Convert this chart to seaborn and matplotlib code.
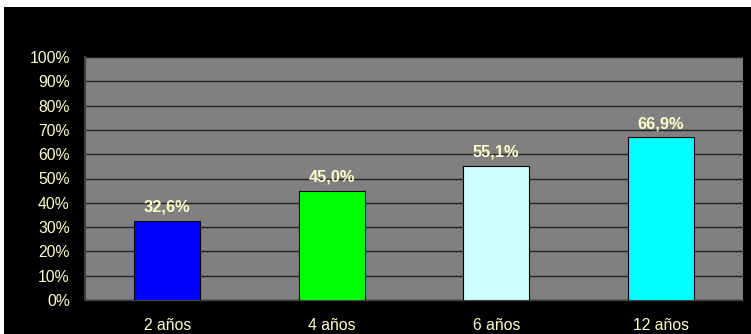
import matplotlib
matplotlib.use("Agg")
import matplotlib.pyplot as plt
import matplotlib.patches as mpatches
import seaborn as sns
import pandas as pd
from matplotlib.ticker import FuncFormatter, MultipleLocator

categories = ["2 años", "4 años", "6 años", "12 años"]
values = [32.6, 45.0, 55.1, 66.9]
labels = ["32,6%", "45,0%", "55,1%", "66,9%"]
colors = ["#0000FF", "#00FF00", "#CCFFFF", "#00FFFF"]

sns.set_style("white")
plt.rcParams["font.family"] = ["Liberation Sans", "DejaVu Sans"]

W, H = 751, 334
fig = plt.figure(figsize=(W / 100, H / 100), dpi=100, facecolor="white")
# black chart area with thin white margin at top/left
fig.patches.append(mpatches.Rectangle((4 / W, 0), 1 - 4 / W, 1 - 7 / H,
                                      transform=fig.transFigure, facecolor="black",
                                      edgecolor="none", zorder=-10))

ax = fig.add_axes([85 / W, 1 - 300 / H, (743 - 85) / W, (300 - 57) / H])
df = pd.DataFrame({"cat": categories, "val": values})
sns.barplot(data=df, x="cat", y="val", hue="cat", palette=colors, legend=False,
            saturation=1, width=0.4, edgecolor="black", linewidth=0.8, ax=ax, zorder=3)

ax.set_facecolor("#808080")
ax.set_ylim(0, 100)
ax.set_xlim(-0.5, len(categories) - 0.5)
ax.yaxis.set_major_locator(MultipleLocator(10))
ax.yaxis.set_major_formatter(FuncFormatter(lambda v, p: f"{int(round(v))}%"))
ax.grid(axis="y", color="#222222", linewidth=1.0, zorder=1)
ax.set_axisbelow(True)
ax.set_xlabel("")
ax.set_ylabel("")

txtc = "#FFFFCC"
ax.tick_params(axis="both", length=0, colors=txtc, labelsize=11.3)
ax.tick_params(axis="x", pad=13)
ax.tick_params(axis="y", pad=11)

for s in ["top", "right"]:
    ax.spines[s].set_visible(False)
ax.spines["left"].set_color("#404040")
ax.spines["left"].set_linewidth(1.5)
ax.spines["bottom"].set_color("#404040")
ax.spines["bottom"].set_linewidth(1.0)

for i, (v, lab) in enumerate(zip(values, labels)):
    ax.text(i, v + 2.6, lab, ha="center", va="bottom", color=txtc,
            fontsize=11.8, fontweight="bold", zorder=4)

fig.savefig("out.png", dpi=100, facecolor=fig.get_facecolor())
